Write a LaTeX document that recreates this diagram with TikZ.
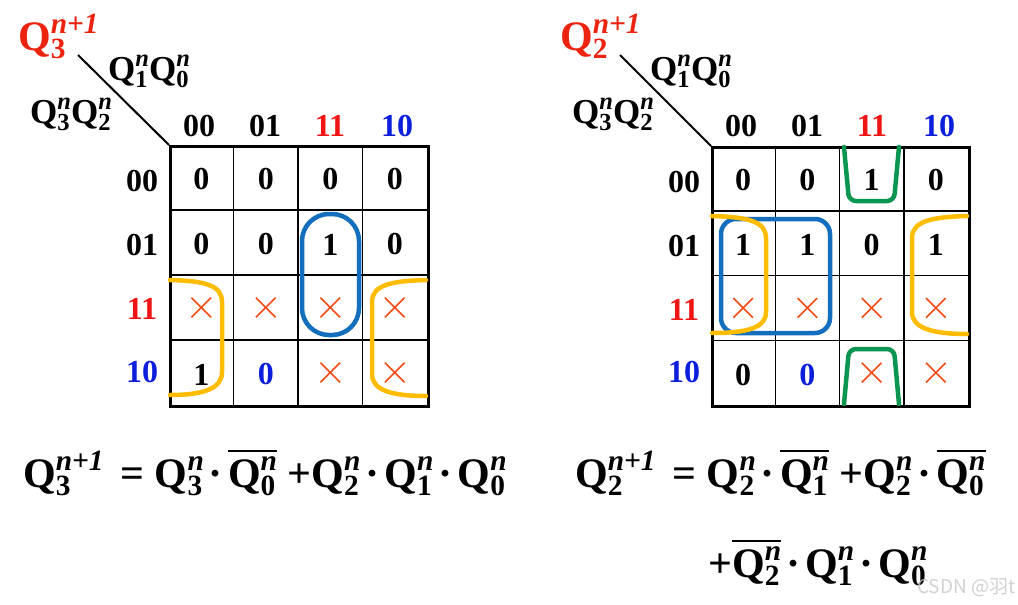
\documentclass[tikz,border=0pt]{standalone}
\usepackage{fontspec}
\setmainfont{Liberation Serif}
\newfontfamily\cjk{Noto Sans CJK SC}
\usetikzlibrary{shapes.misc}
\definecolor{hred}{RGB}{240,20,20}
\definecolor{lred}{RGB}{235,35,15}
\definecolor{hblue}{RGB}{10,30,220}
\definecolor{xred}{RGB}{245,75,20}
\definecolor{lorange}{RGB}{255,188,0}
\definecolor{lblue}{RGB}{20,110,190}
\definecolor{lgreen}{RGB}{10,150,80}
\makeatletter
\newcommand{\Qv}[2]{\begingroup
  \edef\q@s{\the\dimexpr\f@size pt*7/10\relax}%
  \edef\q@u{\the\dimexpr\f@size pt*40/100\relax}%
  \edef\q@d{\the\dimexpr\f@size pt*20/100\relax}%
  \textbf{Q}%
  \setbox0\hbox{\fontsize{\q@s}{\q@s}\selectfont\bfseries\itshape #2}%
  \setbox2\hbox{\fontsize{\q@s}{\q@s}\selectfont\bfseries #1}%
  \dimen0=\ifdim\wd0>\wd2 \wd0\else\wd2\fi
  \hbox to \dimen0{\rlap{\raise\q@u\box0}\lower\q@d\box2\hfil}%
  \endgroup}
\makeatother
\newcommand{\ovl}[1]{\vbox{\hrule height 2pt\kern 4pt\hbox{#1}}}
\newcommand{\dt}{\hspace{0.12em}\textbf{·}\hspace{0.12em}}
\tikzset{
  dig/.style={font=\fontsize{32}{36}\selectfont\bfseries, inner sep=0pt},
  hdr/.style={font=\fontsize{32}{36}\selectfont\bfseries, inner sep=0pt},
  xmark/.style={cross out, draw=xred, line width=1.6pt, minimum size=18pt, inner sep=0pt},
  kmap/.style={draw, line width=3pt, minimum width=258pt, minimum height=260pt, anchor=north west, inner sep=0pt},
  gridline/.style={line width=1.5pt},
  diag/.style={line width=2pt},
  lbl/.style={font=\fontsize{35}{40}\selectfont, inner sep=0pt, anchor=base west},
  big/.style={font=\fontsize{42}{50}\selectfont, inner sep=0pt, anchor=base west},
  loop/.style={line width=4.5pt, line cap=round, line join=round},
}
\begin{document}
\begin{tikzpicture}[x=1pt,y=-1pt]
\useasboundingbox[fill=white] (0,0) rectangle (1018,605);

% ================= Left map =================
\node[kmap] (mapL) at (169,145) {};
\foreach \i in {1,2,3} {
  \draw[gridline] ({169+64.5*\i},145) -- ({169+64.5*\i},405);
  \draw[gridline] (169,{145+65*\i}) -- (427,{145+65*\i});
}
\coordinate (dL) at (78,55);
\draw[diag] (dL) -- (mapL.north west);
\node[big, text=lred] (tL) at (18,50) {\Qv{3}{n+1}};
\node[lbl] (cL) at (108,80) {\Qv{1}{n}\Qv{0}{n}};
\node[lbl] (rL) at (30,123) {\Qv{3}{n}\Qv{2}{n}};
% column headers
\node[hdr] (cL0) at (199,126) {00};
\node[hdr] (cL1) at (265,126) {01};
\node[hdr, text=hred] (cL2) at (330,126) {11};
\node[hdr, text=hblue] (cL3) at (397,126) {10};
% row headers
\node[hdr] (rL0) at (142,181) {00};
\node[hdr] (rL1) at (142,245) {01};
\node[hdr, text=hred] (rL2) at (142,309) {11};
\node[hdr, text=hblue] (rL3) at (142,372) {10};
% cells
\foreach \r/\c/\v in {0/0/0,0/1/0,0/2/0,0/3/0,1/0/0,1/1/0,1/2/1,1/3/0,3/0/1} {
  \node[dig] (L\r\c) at ({169+64.5*(\c+0.5)},{147+65*(\r+0.5)}) {\v};
}
\node[dig, text=hblue] (L31) at ({169+64.5*1.5},{147+65*3.5}) {0};
\foreach \r/\c in {2/0,2/1,2/2,2/3,3/2,3/3} {
  \node[xmark] (L\r\c) at ({169+64.5*(\c+0.5)},{145+65*(\r+0.5)}) {};
}
% loops
\draw[loop, lblue, rounded corners=27pt] (302,214) rectangle (359,335);
\draw[loop, lorange] (170,280) .. controls (205,281) and (222,285) .. (222,302) -- (222,372)
  .. controls (222,388) and (205,395) .. (170,395);
\draw[loop, lorange] (426,280) .. controls (391,281) and (372,285) .. (372,302) -- (372,374)
  .. controls (372,390) and (391,396) .. (426,396);

% ================= Right map =================
\node[kmap, minimum width=257pt, minimum height=259pt] (mapR) at (711,146) {};
\foreach \i in {1,2,3} {
  \draw[gridline] ({711+64.25*\i},146) -- ({711+64.25*\i},405);
  \draw[gridline] (711,{146+64.75*\i}) -- (968,{146+64.75*\i});
}
\coordinate (dR) at (620,55);
\draw[diag] (dR) -- (mapR.north west);
\node[big, text=lred] (tR) at (560,50) {\Qv{2}{n+1}};
\node[lbl] (cR) at (650,80) {\Qv{1}{n}\Qv{0}{n}};
\node[lbl] (rR) at (572,123) {\Qv{3}{n}\Qv{2}{n}};
\node[hdr] (cR0) at (741,126) {00};
\node[hdr] (cR1) at (807,126) {01};
\node[hdr, text=hred] (cR2) at (872,126) {11};
\node[hdr, text=hblue] (cR3) at (939,126) {10};
\node[hdr] (rR0) at (684,182) {00};
\node[hdr] (rR1) at (684,246) {01};
\node[hdr, text=hred] (rR2) at (684,310) {11};
\node[hdr, text=hblue] (rR3) at (684,372) {10};
\foreach \r/\c/\v in {0/0/0,0/1/0,0/2/1,0/3/0,1/0/1,1/1/1,1/2/0,1/3/1,3/0/0} {
  \node[dig] (R\r\c) at ({711+64.25*(\c+0.5)},{148+64.75*(\r+0.5)}) {\v};
}
\node[dig, text=hblue] (R31) at ({711+64.25*1.5},{148+64.75*3.5}) {0};
\foreach \r/\c in {2/0,2/1,2/2,2/3,3/2,3/3} {
  \node[xmark] (R\r\c) at ({711+64.25*(\c+0.5)},{146+64.75*(\r+0.5)}) {};
}
\draw[loop, lblue, rounded corners=15pt] (721,219) rectangle (830,333);
\draw[loop, lgreen, rounded corners=7pt] (844,147) -- (849,201) -- (894,201) -- (899,147);
\draw[loop, lgreen, rounded corners=7pt] (844,404) -- (849,349) -- (894,349) -- (899,404);
\draw[loop, lorange] (712,216) .. controls (747,217) and (766,221) .. (766,238) -- (766,312)
  .. controls (766,328) and (747,333) .. (712,333);
\draw[loop, lorange] (967,216) .. controls (932,217) and (912,221) .. (912,238) -- (912,312)
  .. controls (912,328) and (932,334) .. (967,334);

% ================= Equations =================
\node[big] (eqL) at (23,487) {\Qv{3}{n+1}\hspace{0.4em}\textbf{=}\hspace{0.25em}\Qv{3}{n}\dt\ovl{\Qv{0}{n}}\hspace{0.25em}\textbf{+}\Qv{2}{n}\dt\Qv{1}{n}\dt\Qv{0}{n}};
\node[big] (eqR1) at (575,487) {\Qv{2}{n+1}\hspace{0.4em}\textbf{=}\hspace{0.25em}\Qv{2}{n}\dt\ovl{\Qv{1}{n}}\hspace{0.25em}\textbf{+}\Qv{2}{n}\dt\ovl{\Qv{0}{n}}};
\node[big] (eqR2) at (708,577) {\textbf{+}\ovl{\Qv{2}{n}}\dt\Qv{1}{n}\dt\Qv{0}{n}};

% watermark
\node[anchor=base west, inner sep=0pt, text=gray!45, opacity=0.8, font=\cjk\fontsize{19}{22}\selectfont] (wm) at (917,593) {CSDN @羽t};
\end{tikzpicture}
\end{document}
